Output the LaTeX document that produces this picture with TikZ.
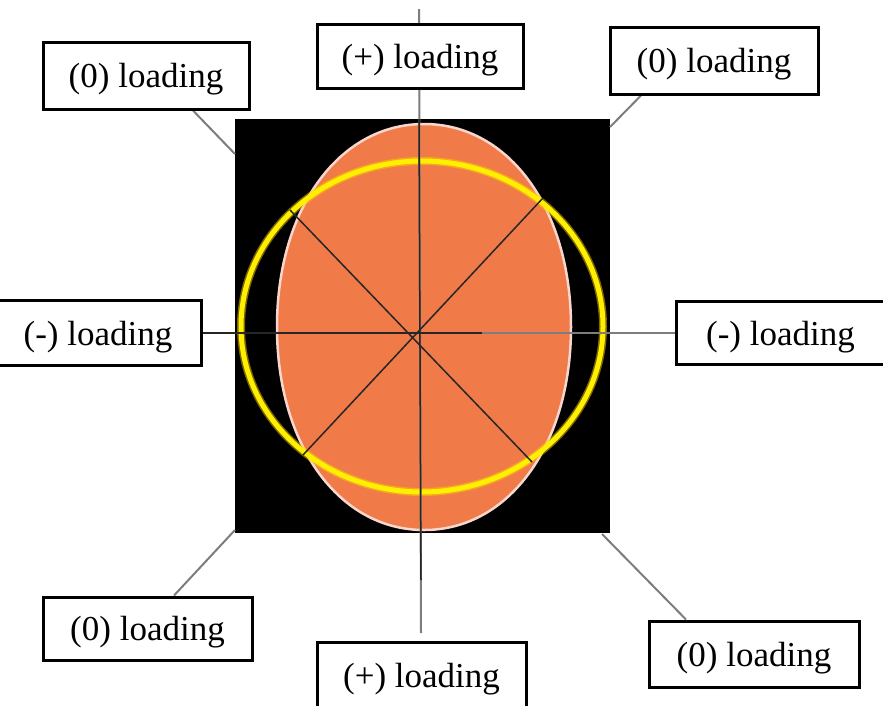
\documentclass[tikz,border=0pt]{standalone}
\usepackage{fontspec}
\setmainfont{Liberation Serif}
\definecolor{orangefill}{RGB}{240,122,72}
\definecolor{ringyellow}{RGB}{255,240,0}
\definecolor{rimpink}{RGB}{248,214,205}
\definecolor{leadgray}{RGB}{125,125,125}
\pgfdeclarelayer{img}
\pgfdeclarelayer{lines}
\pgfsetlayers{img,lines,main}
\begin{document}
\begin{tikzpicture}[x=1pt,y=-1pt,
  loadbox/.style={draw=black,line width=3pt,fill=white,inner sep=0pt,text depth=0pt,
    font=\fontsize{35}{40}\selectfont},
  lead/.style={draw=leadgray,line width=2pt},
  inner/.style={draw=black!85,line width=1.5pt}]
\useasboundingbox (0,0) rectangle (883,705);

% label boxes
\node[loadbox, minimum width=206pt, minimum height=67pt] (tl) at (146,75.5) {(0) loading};
\node[loadbox, minimum width=206pt, minimum height=64pt] (t)  at (420,56)   {(+) loading};
\node[loadbox, minimum width=208pt, minimum height=67pt] (tr) at (714,60.5) {(0) loading};
\node[loadbox, minimum width=206pt, minimum height=65pt] (l)  at (98,333)   {(-) loading};
\node[loadbox, minimum width=209pt, minimum height=63pt] (r)  at (780.5,333) {(-) loading};
\node[loadbox, minimum width=209pt, minimum height=63pt] (bl) at (147.5,628.5) {(0) loading};
\node[loadbox, minimum width=209pt, minimum height=66pt] (b)  at (421.5,675) {(+) loading};
\node[loadbox, minimum width=210pt, minimum height=66pt] (br) at (754,654)  {(0) loading};

% image
\begin{pgfonlayer}{img}
  \fill[black] (235,119) rectangle (610,533);
  % slightly squarish orange oval (centre 424,327; rx 147; ry 203)
  \path[fill=orangefill, draw=rimpink, line width=2.5pt]
    (571,327) .. controls (571,209) and (509,124) .. (424,124)
              .. controls (339,124) and (277,209) .. (277,327)
              .. controls (277,445) and (339,530) .. (424,530)
              .. controls (509,530) and (571,445) .. (571,327) -- cycle;
  \draw[ringyellow!70!orange, line width=8pt, opacity=0.5] (422,326.5) ellipse [x radius=181, y radius=165.5];
  \draw[ringyellow, line width=5pt] (422,326.5) ellipse [x radius=181, y radius=165.5];
\end{pgfonlayer}

% connectors
\coordinate (vtop) at (419,9);
\coordinate (vbot) at (421,633);
\coordinate (sqtl) at (235,154);
\coordinate (sqtr) at (610,127);
\coordinate (sqbl) at (235,530);
\coordinate (sqbr) at (602,534);
\coordinate (d1a) at (290,210);
\coordinate (d1b) at (532,462);
\coordinate (d2a) at (543,198);
\coordinate (d2b) at (303,455);
\begin{pgfonlayer}{lines}
  \draw[lead] (vtop) -- (vbot);
  \draw[inner] (419,119) -- (421,580);
  \draw[lead] (l.east) -- (r.west);
  \draw[inner] (l.east) -- (482,333);
  \draw[inner] (d1a) -- (d1b);
  \draw[inner] (d2a) -- (d2b);
  \draw[lead] ([xshift=47pt]tl.south) -- (sqtl);
  \draw[lead] ([xshift=-73pt]tr.south) -- (sqtr);
  \draw[lead] ([xshift=26.5pt]bl.north) -- (sqbl);
  \draw[lead] ([xshift=-68pt]br.north) -- (sqbr);
\end{pgfonlayer}
\end{tikzpicture}
\end{document}
